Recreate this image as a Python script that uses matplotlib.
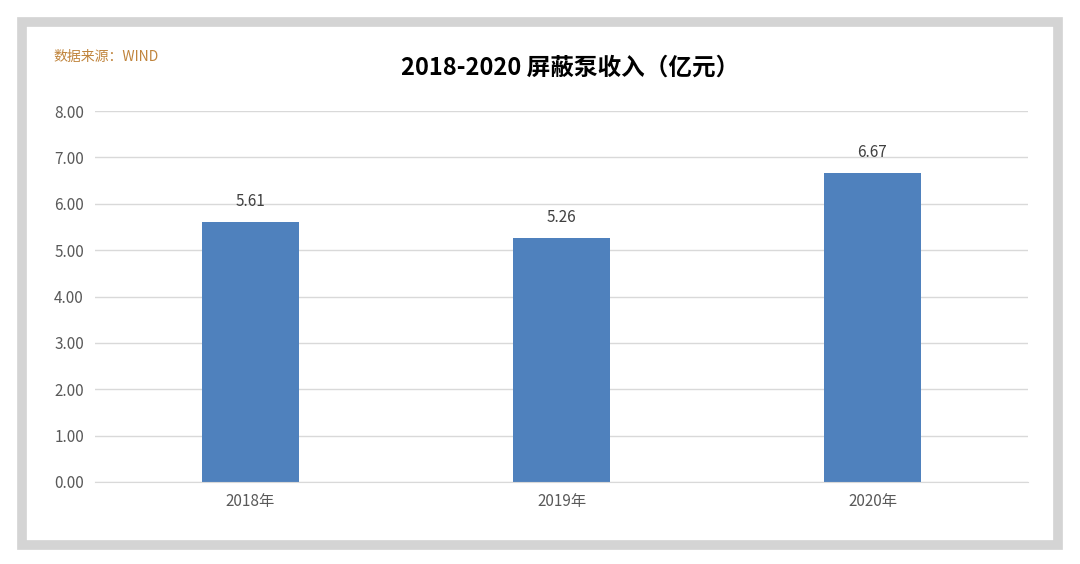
import matplotlib
matplotlib.use("Agg")
import matplotlib.pyplot as plt
from matplotlib.patches import Rectangle

plt.rcParams['font.family'] = ['Noto Sans CJK SC', 'DejaVu Sans']

categories = ["2018年", "2019年", "2020年"]
values = [5.61, 5.26, 6.67]
yticks = [0, 1, 2, 3, 4, 5, 6, 7, 8]

fig = plt.figure(figsize=(10.8, 5.64), dpi=100)
fig.patch.set_facecolor('white')
fig.patches.append(Rectangle((22/1080, 1-545/564), 1036/1080, 523/564, transform=fig.transFigure,
                             fill=False, edgecolor='#d4d4d4', linewidth=7, zorder=0))

ax = fig.add_axes([95/1080, 1-482/564, 933/1080, 371/564])
x = range(len(categories))
bars = ax.bar(x, values, width=0.31, color='#4f81bd', zorder=2)
for xi, v in zip(x, values):
    ax.text(xi, v + 0.25, f"{v:.2f}", ha='center', va='bottom', fontsize=11, color='#404040')
ax.set_xlim(-0.5, 2.5)
ax.set_ylim(0, 8)
ax.set_yticks(yticks)
ax.set_yticklabels([f"{t:.2f}" for t in yticks], fontsize=11, color='#595959')
ax.set_xticks(list(x))
ax.set_xticklabels(categories, fontsize=11, color='#595959')
ax.grid(axis='y', color='#d9d9d9', linewidth=1, zorder=0)
for s in ['top', 'right', 'left']:
    ax.spines[s].set_visible(False)
ax.spines['bottom'].set_color('#d9d9d9')
ax.tick_params(length=0, pad=8)

fig.text(570/1080, 1-68/564, "2018-2020 屏蔽泵收入（亿元）", ha='center', va='center',
         fontsize=17, fontweight='bold', color='#000000')
fig.text(53/1080, 1-57/564, "数据来源：WIND", ha='left', va='center', fontsize=10, color='#c0843c')

fig.savefig("out.png", dpi=100)
